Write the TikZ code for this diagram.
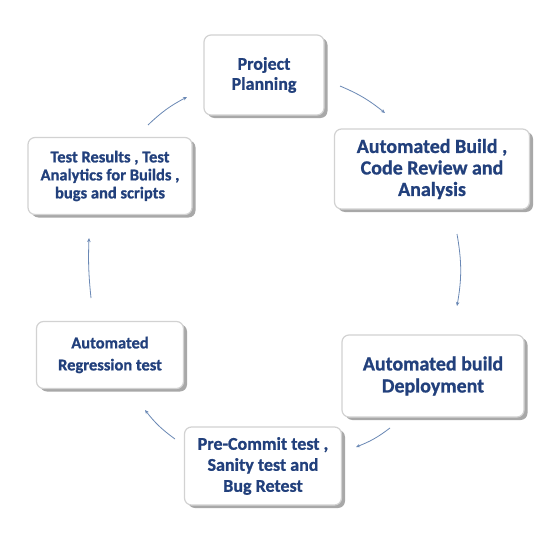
\documentclass[tikz,border=0pt]{standalone}
\usepackage{fontspec}
\setmainfont{Carlito}[BoldFont={Carlito Bold}, BoldFeatures={FakeBold=0.9}]
\usetikzlibrary{shadows,arrows.meta}
\definecolor{txt}{HTML}{22407C}
\definecolor{arr}{HTML}{6A88B5}
\begin{document}
\begin{tikzpicture}[x=1pt,y=-1pt,
  card/.style={rounded corners=7pt, fill=white, draw=gray!35, line width=1.2pt,
    inner sep=2pt, align=center, text=txt,
    drop shadow={shadow xshift=3.5pt, shadow yshift=-3pt, fill=gray!75, opacity=0.9}},
  conn/.style={draw=arr, line width=0.8pt, -{Stealth[length=4pt,width=3.5pt]}}]
\useasboundingbox[fill=white] (0,0) rectangle (555,538);

\node[card, minimum width=120pt, minimum height=80pt,
  font=\fontsize{18}{20}\selectfont\bfseries] (pp) at (264,75) {Project\\Planning};
\node[card, minimum width=195pt, minimum height=80pt,
  font=\fontsize{20}{21.5}\selectfont\bfseries] (ab) at (432,169) {Automated Build ,\\Code Review and\\Analysis};
\node[card, minimum width=164pt, minimum height=77pt,
  font=\fontsize{16.5}{18}\selectfont\bfseries] (tr) at (110,176) {Test Results , Test\\Analytics for Builds ,\\bugs and scripts};
\node[card, minimum width=147pt, minimum height=67pt,
  font=\fontsize{16.5}{22}\selectfont\bfseries] (ar) at (110,355) {Automated\\Regression test};
\node[card, minimum width=182pt, minimum height=82pt,
  font=\fontsize{20}{22}\selectfont\bfseries] (ad) at (433,376) {Automated build\\Deployment};
\node[card, minimum width=157pt, minimum height=78pt,
  font=\fontsize{18}{21}\selectfont\bfseries] (pc) at (263,466) {Pre-Commit test ,\\Sanity test and\\Bug Retest};

\coordinate (a1s) at (148,125); \coordinate (a1e) at (187,97);
\coordinate (a2s) at (340,86);  \coordinate (a2e) at (385,113);
\coordinate (a3s) at (457,234); \coordinate (a3e) at (457,306);
\coordinate (a4s) at (390,428); \coordinate (a4e) at (356,447);
\coordinate (a5s) at (175,439); \coordinate (a5e) at (145,410);
\coordinate (a6s) at (91,298);  \coordinate (a6e) at (89,238);

\draw[conn] (a1s) to[bend left=8] (a1e);
\draw[conn] (a2s) to[bend left=8] (a2e);
\draw[conn] (a3s) to[bend left=10] (a3e);
\draw[conn] (a4s) to[bend left=8] (a4e);
\draw[conn] (a5s) to[bend left=8] (a5e);
\draw[conn] (a6s) to[bend left=4] (a6e);
\end{tikzpicture}
\end{document}
